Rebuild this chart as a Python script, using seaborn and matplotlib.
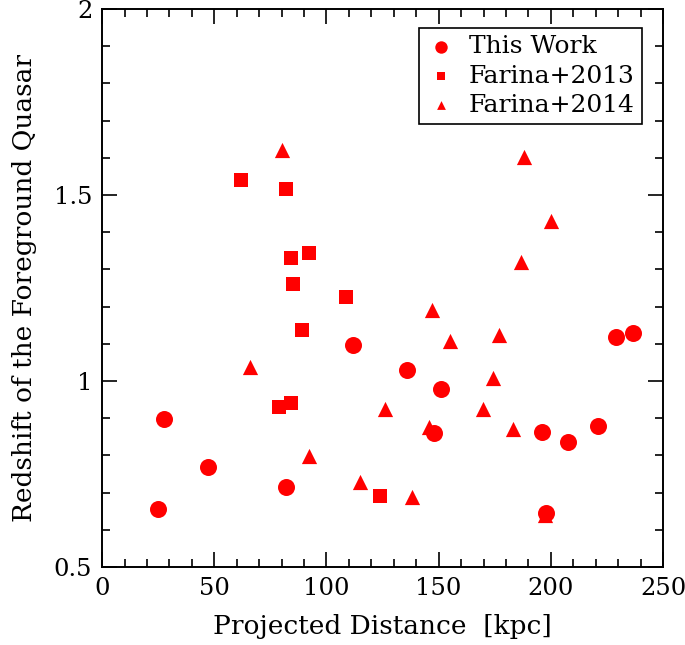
import matplotlib
matplotlib.use("Agg")
import matplotlib.pyplot as plt
import seaborn as sns
import pandas as pd
from matplotlib.ticker import MultipleLocator

# ---- data ----
this_dist = [25.1, 27.8, 47.1, 81.9, 111.9, 136.0, 151.2, 147.9, 195.9, 197.9, 207.8, 220.8, 228.8, 236.8]
this_z = [0.657, 0.898, 0.768, 0.715, 1.097, 1.030, 0.978, 0.860, 0.863, 0.645, 0.835, 0.878, 1.118, 1.129]

f13_dist = [62.1, 82.1, 84.0, 92.0, 85.0, 108.9, 88.9, 79.0, 84.0, 123.9]
f13_z = [1.541, 1.516, 1.331, 1.345, 1.260, 1.227, 1.137, 0.931, 0.941, 0.690]

f14_dist = [80.1, 188.1, 200.2, 186.8, 66.0, 147.1, 155.1, 177.0, 125.9, 92.0, 115.0, 137.9, 145.7, 174.0, 169.6, 183.3, 197.2]
f14_z = [1.621, 1.602, 1.431, 1.321, 1.038, 1.190, 1.107, 1.123, 0.926, 0.797, 0.729, 0.689, 0.876, 1.007, 0.924, 0.870, 0.640]

sns.set_style("ticks")
plt.rcParams["font.family"] = ["DejaVu Serif"]
plt.rcParams["text.color"] = "black"
plt.rcParams["axes.labelcolor"] = "black"

fig = plt.figure(figsize=(6.85, 6.45), dpi=100)
ax = fig.add_axes([0.149, 0.121, 0.819, 0.865])

df1 = pd.DataFrame({"d": this_dist, "z": this_z})
df2 = pd.DataFrame({"d": f13_dist, "z": f13_z})
df3 = pd.DataFrame({"d": f14_dist, "z": f14_z})

sns.scatterplot(data=df3, x="d", y="z", marker="^", s=120, color="red", linewidth=0, label="Farina+2014", ax=ax)
sns.scatterplot(data=df2, x="d", y="z", marker="s", s=90, color="red", linewidth=0, label="Farina+2013", ax=ax)
sns.scatterplot(data=df1, x="d", y="z", marker="o", s=150, color="red", linewidth=0, label="This Work", ax=ax)

ax.set_xlim(0, 250)
ax.set_ylim(0.5, 2)
ax.xaxis.set_minor_locator(MultipleLocator(10))
ax.yaxis.set_minor_locator(MultipleLocator(0.1))
ax.set_xticks([0, 50, 100, 150, 200, 250])
ax.set_xticklabels(["0", "50", "100", "150", "200", "250"])
ax.set_yticks([0.5, 1, 1.5, 2])
ax.set_yticklabels(["0.5", "1", "1.5", "2"])

ax.tick_params(which="both", direction="in", top=True, right=True, colors="black",
               labelcolor="black", labelsize=17.5, width=1.2)
ax.tick_params(which="major", length=11, pad=7)
ax.tick_params(which="minor", length=5.5)
for sp in ax.spines.values():
    sp.set_linewidth(1.4)
    sp.set_color("black")

ax.set_xlabel("Projected Distance  [kpc]", fontsize=19, labelpad=10)
ax.set_ylabel("Redshift of the Foreground Quasar", fontsize=19, labelpad=12)

handles, labels = ax.get_legend_handles_labels()
order = [2, 1, 0]
leg = ax.legend([handles[i] for i in order], [labels[i] for i in order],
                loc="upper right", bbox_to_anchor=(0.963, 0.966), fontsize=18,
                frameon=True, fancybox=False, edgecolor="black", framealpha=1,
                handlelength=1.2, handletextpad=0.5, borderpad=0.3,
                borderaxespad=0, labelspacing=0.25)
leg.get_frame().set_linewidth(1.2)
for h, sz in zip(leg.legend_handles, [80, 40, 40]):
    h.set_sizes([sz])

fig.savefig("out.png", dpi=100)
